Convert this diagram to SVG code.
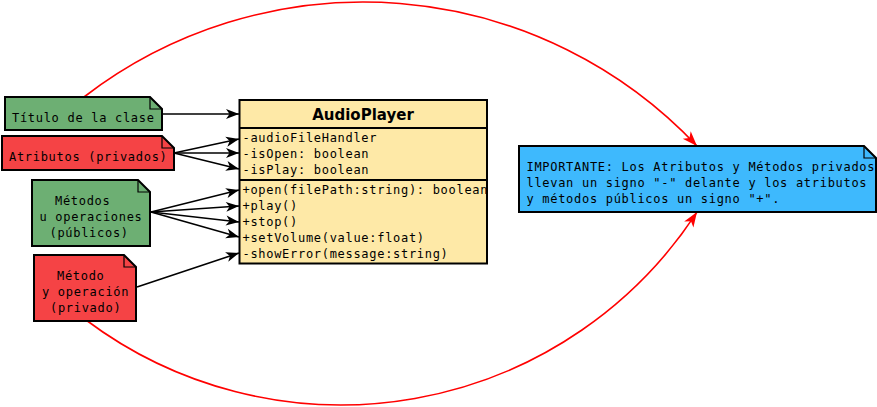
<svg xmlns="http://www.w3.org/2000/svg" width="877" height="407" viewBox="0 0 877 407">
<style>
.note{stroke:#000;stroke-width:2;stroke-linejoin:miter}
.fold{fill:none;stroke:#000;stroke-width:1.2}
.green{fill:#6daf73}
.red{fill:#f54345}
.blue{fill:#3eb9fd}
.mono{font-family:"DejaVu Sans Mono","Liberation Mono",monospace;font-size:12px;letter-spacing:0.7px;fill:#000}
.title{font-family:"DejaVu Sans","Liberation Sans",sans-serif;font-size:15px;font-weight:bold;fill:#000}
.conn{fill:none;stroke:#000;stroke-width:1.6}
.rconn{fill:none;stroke:#ff0000;stroke-width:1.6}
</style>
<defs>
<marker id="ah" markerUnits="userSpaceOnUse" markerWidth="16" markerHeight="14" refX="13" refY="5.5" orient="auto" overflow="visible">
<path d="M0,0.5 L13,5.5 L0,10.5 L3.5,5.5 Z" fill="#000"/>
</marker>
<marker id="rah" markerUnits="userSpaceOnUse" markerWidth="18" markerHeight="14" refX="15" refY="6" orient="auto" overflow="visible">
<path d="M0,0.5 L15,6 L0,11.5 L4,6 Z" fill="#ff0000"/>
</marker>
</defs>

<g id="connectors">
<path class="rconn" d="M84,97 A458.5,458.5 0 0 1 697,146" marker-end="url(#rah)"/>
<path class="rconn" d="M86,320 A425,425 0 0 0 697,212" marker-end="url(#rah)"/>
<path class="conn" d="M162,114 L239,114" marker-end="url(#ah)"/>
<path class="conn" d="M174,153 L239,139" marker-end="url(#ah)"/>
<path class="conn" d="M174,153 L239,153" marker-end="url(#ah)"/>
<path class="conn" d="M174,153 L239,169" marker-end="url(#ah)"/>
<path class="conn" d="M151,212 L239,190" marker-end="url(#ah)"/>
<path class="conn" d="M151,212 L239,206" marker-end="url(#ah)"/>
<path class="conn" d="M151,212 L239,222" marker-end="url(#ah)"/>
<path class="conn" d="M151,212 L239,237" marker-end="url(#ah)"/>
<path class="conn" d="M137,287 L239,253" marker-end="url(#ah)"/>
</g>

<g id="class-audioplayer">
<rect x="239.5" y="100" width="247.5" height="163.5" fill="#fee9a7"/>
<text class="title" x="363" y="120" text-anchor="middle">AudioPlayer</text>
<text class="mono" x="242.5" y="141.5">-audioFileHandler</text>
<text class="mono" x="242.5" y="157.5">-isOpen: boolean</text>
<text class="mono" x="242.5" y="173.5">-isPlay: boolean</text>
<text class="mono" x="242.5" y="193.5">+open(filePath:string): boolean</text>
<text class="mono" x="242.5" y="209.5">+play()</text>
<text class="mono" x="242.5" y="225.5">+stop()</text>
<text class="mono" x="242.5" y="241.5">+setVolume(value:float)</text>
<text class="mono" x="242.5" y="257.5">-showError(message:string)</text>
<rect x="239.5" y="100" width="247.5" height="163.5" fill="none" stroke="#000" stroke-width="2"/>
<line x1="239.5" y1="128" x2="487" y2="128" stroke="#000" stroke-width="2"/>
<line x1="239.5" y1="180" x2="487" y2="180" stroke="#000" stroke-width="2"/>
</g>

<g id="note-titulo">
<path class="note green" d="M5,97 H150 L162,109 V130 H5 Z"/>
<path class="fold" d="M150,97 V109 H162"/>
<text class="mono" x="12" y="122">Título de la clase</text>
</g>

<g id="note-atributos">
<path class="note red" d="M2,136 H162 L174,148 V170 H2 Z"/>
<path class="fold" d="M162,136 V148 H174"/>
<text class="mono" x="9" y="161">Atributos (privados)</text>
</g>

<g id="note-metodos">
<path class="note green" d="M32,180 H138 L150,192 V246 H32 Z"/>
<path class="fold" d="M138,180 V192 H150"/>
<text class="mono" x="55" y="205">Métodos</text>
<text class="mono" x="39.5" y="221">u operaciones</text>
<text class="mono" x="49.5" y="237">(públicos)</text>
</g>

<g id="note-privado">
<path class="note red" d="M34,255 H124 L136,267 V321 H34 Z"/>
<path class="fold" d="M124,255 V267 H136"/>
<text class="mono" x="57" y="280">Método</text>
<text class="mono" x="42" y="296">y operación</text>
<text class="mono" x="50" y="312">(privado)</text>
</g>

<g id="note-importante">
<path class="note blue" d="M519,146 H864 L876,158 V212 H519 Z"/>
<path class="fold" d="M864,146 V158 H876"/>
<text class="mono" x="526.5" y="171">IMPORTANTE: Los Atributos y Métodos privados</text>
<text class="mono" x="526.5" y="187">llevan un signo "-" delante y los atributos</text>
<text class="mono" x="526.5" y="203">y métodos públicos un signo "+".</text>
</g>
</svg>
